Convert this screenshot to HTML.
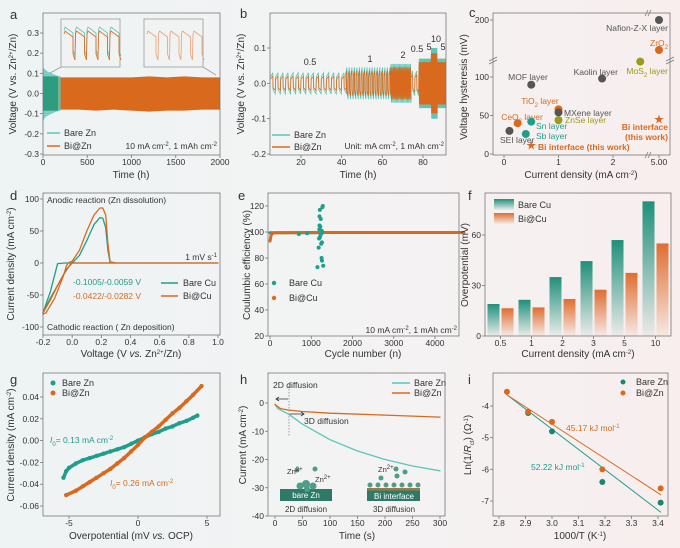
<!DOCTYPE html>
<html><head><meta charset="utf-8">
<style>
html,body{margin:0;padding:0;}
body{width:680px;height:548px;overflow:hidden;background:linear-gradient(90deg,#eef3f4 0%,#f3f3f3 50%,#f8eeee 100%);}
svg{display:block;font-family:"Liberation Sans","Noto Sans CJK SC",sans-serif;}
</style></head>
<body>
<svg id="fig" width="680" height="548" viewBox="0 0 680 548" xmlns="http://www.w3.org/2000/svg"></svg>
<script>
// ---------- data: panel a ----------
const aBareT=[0,20,50,100,150,200];
const aBareUp=[0.13,0.12,0.11,0.10,0.09,0.085];
const aBareLo=[-0.14,-0.12,-0.11,-0.10,-0.09,-0.085];
const aBiT=[0,200,400,600,800,1000,1200,1400,1600,1800,2000];
const aBiUp=[0.07,0.08,0.08,0.08,0.08,0.08,0.085,0.08,0.085,0.08,0.08];
const aBiLo=[-0.07,-0.08,-0.08,-0.085,-0.08,-0.085,-0.09,-0.085,-0.085,-0.08,-0.08];
// ---------- data: panel b ----------
const bSegStart=[5,42,64,74,78,84,87];
const bSegEnd=[42,64,74,78,84,87,91];
const bBareAmp=[0.03,0.045,0.055,0.035,0.07,0.1,0.07];
const bBiAmp=[0.02,0.035,0.045,0.025,0.06,0.085,0.06];
const bPeriod=[2.5,1.25,0.6,2.0,0.35,0.3,0.35];
const bRateLabels=["0.5","1","2","0.5","5","10","5"];
// ---------- data: panel c ----------
const cNames=["Nafion-Z-X layer","ZrO<tspan baseline-shift='sub' font-size='6'>2</tspan>","MoS<tspan baseline-shift='sub' font-size='6'>2</tspan> layer","Kaolin layer","MOF layer","TiO<tspan baseline-shift='sub' font-size='6'>2</tspan> layer","MXene layer","ZnSe layer","CeO<tspan baseline-shift='sub' font-size='6'>2</tspan> layer","Sn layer","Sb layer","SEI layer"];
const cX=[5,5,2.5,1.8,0.5,1.0,1.0,1.0,0.25,0.5,0.4,0.1];
const cY=[200,150,120,98,90,58,54,44,40,42,26,30];
const cColor=["#555","#d9691c","#9a9a1c","#555","#555","#d9691c","#555","#9a9a1c","#d9691c","#1f9e8c","#1f9e8c","#555"];
const cStarX=[0.5,5];
const cStarY=[11,45];
// ---------- data: panel d ----------
const dBareV=[-0.2,-0.15,-0.11,-0.1,-0.05,0,0.05,0.1,0.15,0.19,0.21,0.23,0.245,0.26,0.3,1.0,0.3,0.0,-0.006,-0.05,-0.1,-0.15,-0.2];
const dBareJ=[-78,-45,-10,-1,0,0,12,35,60,71,70,55,20,1,0,0,0,0,0,-15,-35,-55,-78];
const dBiV=[-0.2,-0.18,-0.12,-0.06,-0.04,-0.028,0,0.05,0.1,0.15,0.19,0.21,0.23,0.245,0.26,0.3,1.0,0.3,0,-0.04,-0.1,-0.15,-0.2];
const dBiJ=[-80,-78,-55,-20,-5,0,3,20,50,75,86,86,75,30,2,0,0,0,0,-10,-35,-58,-78];
// ---------- data: panel e ----------
const eBiN=[0,30,100,1000,2000,3000,4000,4700];
const eBiCE=[93,98,99.5,99.6,99.6,99.6,99.6,99.6];
const eBareN=[1150,1180,1190,1200,1210,1220,1230,1240,1250,1260,1270,1280,1290,1200,1230,1260,1250,1270,1210,1195,1240,700,900];
const eBareCE=[73,88,95,112,117,104,98,91,80,78,119,120,74,105,110,92,101,100,96,102,99,98.5,99];
// ---------- data: panel f ----------
const fCats=["0.5","1","2","3","5","10"];
const fBare=[19,21.5,35,44.5,57,80];
const fBi=[16.5,17,22,27.5,37.5,55];
// ---------- data: panel g ----------
const gBareX=[-5.4,-5.2,-5.0,-4.5,-4,-3.5,-3,-2.5,-2,-1.5,-1,-0.5,0,0.5,1,1.5,2,2.5,3,3.5,4,4.3];
const gBareY=[-0.034,-0.028,-0.025,-0.021,-0.018,-0.016,-0.014,-0.012,-0.010,-0.008,-0.006,-0.003,0.000,0.003,0.006,0.008,0.011,0.013,0.016,0.018,0.021,0.023];
const gBiX=[-5.2,-4.5,-4,-3.5,-3,-2.5,-2,-1.5,-1,-0.5,0,0.5,1,1.5,2,2.5,3,3.5,4,4.6];
const gBiY=[-0.050,-0.046,-0.042,-0.038,-0.034,-0.030,-0.026,-0.021,-0.016,-0.010,-0.004,0.003,0.008,0.013,0.019,0.025,0.030,0.036,0.042,0.050];
// ---------- data: panel h ----------
const hBareT=[0,5,25,50,100,150,200,250,300];
const hBareI=[-0.5,-2,-4,-7.5,-13,-17,-20,-22.3,-24];
const hBiT=[0,10,25,50,100,200,300];
const hBiI=[-0.5,-2,-2.5,-3,-3.6,-4.3,-5];
// ---------- data: panel i ----------
const iBareX=[2.91,3.0,3.19,3.41];
const iBareY=[-4.22,-4.8,-6.4,-7.05];
const iBiX=[2.83,2.91,3.0,3.19,3.41];
const iBiY=[-3.55,-4.18,-4.5,-6.0,-6.6];
const iBareFitX=[2.83,3.41];
const iBareFitY=[-3.65,-7.35];
const iBiFitX=[2.83,3.41];
const iBiFitY=[-3.65,-6.8];

const NS="http://www.w3.org/2000/svg";
const svg=document.getElementById('fig');
const TEAL="#1f9e8c", LTEAL="#5cc6b9", ORANGE="#d9691c", DGREEN="#2e9c7f";
function mk(tag,attrs,parent){const e=document.createElementNS(NS,tag);for(const k in attrs)e.setAttribute(k,attrs[k]);(parent||svg).appendChild(e);return e;}
function lin(v1,p1,v2,p2){return v=>p1+(v-v1)*(p2-p1)/(v2-v1);}
function T(x,y,html,name,opt){
  opt=opt||{};
  const e=mk('text',{x:x,y:y,'font-size':opt.fs||9,fill:opt.fill||'#333','text-anchor':opt.anchor||'start'});
  if(opt.bold)e.setAttribute('font-weight','bold');
  if(opt.rot!==undefined)e.setAttribute('transform','rotate('+opt.rot+' '+x+' '+y+')');
  e.innerHTML=html;
  
  
  return e;
}
function poly(xs,ys,sx,sy,stroke,w,name){
  const pts=xs.map((v,i)=>sx(v).toFixed(1)+','+sy(ys[i]).toFixed(1)).join(' ');
  const p=mk('polyline',{points:pts,fill:'none',stroke:stroke,'stroke-width':w,'stroke-linejoin':'round','stroke-linecap':'round'});
  
  
  return p;
}
function dot(x,y,r,fill,name){
  const c=mk('circle',{cx:x,cy:y,r:r,fill:fill});
  
  
  return c;
}
function frame(p,b){
  const r=mk('rect',{x:b[0],y:b[1],width:b[2]-b[0],height:b[3]-b[1],fill:'none',stroke:'#777','stroke-width':0.8});
  
  
}
function xticks(p,b,vals,labels,sx){
  vals.forEach((v,i)=>{
    const x=sx(v);
    const t=mk('line',{x1:x,x2:x,y1:b[3],y2:b[3]+3,stroke:'#777','stroke-width':0.8});
    
    
    T(x,b[3]+10,labels[i],p+'-x-tick-label',{anchor:'middle',fs:8.5});
  });
}
function yticks(p,b,vals,labels,sy){
  vals.forEach((v,i)=>{
    const y=sy(v);
    const t=mk('line',{x1:b[0]-3,x2:b[0],y1:y,y2:y,stroke:'#777','stroke-width':0.8});
    
    
    T(b[0]-4,y+3,labels[i],p+'-y-tick-label',{anchor:'end',fs:8.5});
  });
}
const SUP=s=>"<tspan baseline-shift='super' font-size='6'>"+s+"</tspan>";
const SUB=s=>"<tspan baseline-shift='sub' font-size='6'>"+s+"</tspan>";

// ======== Panel a ========
(function(){
  const b=[43,13,220,155];
  const sx=lin(0,43,2000,220), sy=lin(0.3,33,-0.3,154);
  const biPts=aBiT.map((t,i)=>sx(t)+','+sy(aBiUp[i])).concat(aBiT.slice().reverse().map((t,i)=>sx(t)+','+sy(aBiLo[aBiT.length-1-i])));
  const bi=mk('polygon',{points:biPts.join(' '),fill:ORANGE});
  
  
  const lp=aBareT.map((t,i)=>sx(t)+','+sy(aBareUp[i])).concat(aBareT.slice().reverse().map((t,i)=>sx(t)+','+sy(aBareLo[aBareT.length-1-i])));
  const lb=mk('polygon',{points:lp.join(' '),fill:LTEAL,opacity:0.8});
  
  
  const core=mk('rect',{x:sx(0),y:sy(0.085),width:sx(170)-sx(0),height:sy(-0.085)-sy(0.085),fill:DGREEN});
  
  
  frame('a',b);
  xticks('a',b,[0,500,1000,1500,2000],['0','500','1000','1500','2000'],sx);
  yticks('a',b,[0.3,0.2,0.1,0,-0.1,-0.2,-0.3],['0.3','0.2','0.1','0.0','-0.1','-0.2','-0.3'],sy);
  [[61,'a-inset-bare',LTEAL,ORANGE],[144,'a-inset-bi',null,'#e8a070']].forEach(s=>{
    const r=mk('rect',{x:s[0],y:19,width:59,height:48,fill:'#f1f3f3',stroke:'#999','stroke-width':0.8});
    
    
    for(let k=0;k<2;k++){
      const col=k===0?s[2]:s[3]; if(!col)continue;
      const off=k===0?0:4;
      let d='';
      for(let c=0;c<5;c++){
        const x0=s[0]+3+c*11.5;
        d+=(c===0?'M':'L')+x0+','+(30+off)+' L'+(x0+1)+','+(27+off)+' L'+(x0+9)+','+(33+off)+' L'+(x0+9)+','+(50+off)+' L'+(x0+11)+','+(56+off)+' ';
      }
      const pth=mk('path',{d:d,fill:'none',stroke:col,'stroke-width':0.8});
      
      
    }
  });
  const a1=mk('line',{x1:61,y1:67,x2:50,y2:73,stroke:'#999','stroke-width':0.8});
  
  
  const a2=mk('line',{x1:203,y1:67,x2:216,y2:75,stroke:'#999','stroke-width':0.8});
  
  
  const l1=mk('line',{x1:47,x2:60,y1:133,y2:133,stroke:LTEAL,'stroke-width':1.5});
  
  
  T(64,136,'Bare Zn','a-legend-bare-zn');
  const l2=mk('line',{x1:47,x2:60,y1:146,y2:146,stroke:ORANGE,'stroke-width':1.5});
  
  
  T(64,149,'Bi@Zn','a-legend-bi-zn');
  T(217,149,'10 mA cm'+SUP('-2')+', 1 mAh cm'+SUP('-2'),'a-condition-note',{anchor:'end',fs:8.5});
  T(131,178,'Time (h)','a-x-axis-title',{anchor:'middle',fs:10});
  T(16,84,'Voltage (V vs. Zn'+SUP('2+')+'/Zn)','a-y-axis-title',{anchor:'middle',fs:10,rot:-90});
  T(10,19,'a','a-panel-label',{fs:13});
})();

// ======== Panel b ========
(function(){
  const b=[270,13,446,155];
  const sx=lin(20,301,80,423), sy=lin(0.1,48,-0.2,154);
  [[bBareAmp,LTEAL,'b-bare-zn-curve'],[bBiAmp,ORANGE,'b-bi-zn-curve']].forEach(s=>{
    let d='';
    bSegStart.forEach((t0,i)=>{
      const amp=s[0][i], p=bPeriod[i];
      for(let t=t0;t<bSegEnd[i]-0.01;t+=p){
        d+=(d===''?'M':'L')+sx(t).toFixed(1)+','+sy(amp*0.6).toFixed(1)+' L'+sx(t+0.45*p).toFixed(1)+','+sy(amp).toFixed(1)+' L'+sx(t+0.5*p).toFixed(1)+','+sy(-amp*0.6).toFixed(1)+' L'+sx(t+0.95*p).toFixed(1)+','+sy(-amp).toFixed(1)+' ';
      }
    });
    const pth=mk('path',{d:d,fill:'none',stroke:s[1],'stroke-width':0.8});
    
    
  });
  const lx=[310,370,403,417,429,436,443], ly=[65,62,58,52,50,42,50];
  bRateLabels.forEach((s,i)=>T(lx[i],ly[i],s,'b-rate-label',{anchor:'middle',fs:9}));
  frame('b',b);
  xticks('b',b,[20,40,60,80],['20','40','60','80'],sx);
  yticks('b',b,[0.1,0,-0.1,-0.2],['0.1','0.0','-0.1','-0.2'],sy);
  const l1=mk('line',{x1:272,x2:290,y1:135,y2:135,stroke:LTEAL,'stroke-width':1.5});
  
  
  T(294,138,'Bare Zn','b-legend-bare-zn');
  const l2=mk('line',{x1:272,x2:290,y1:147,y2:147,stroke:ORANGE,'stroke-width':1.5});
  
  
  T(294,150,'Bi@Zn','b-legend-bi-zn');
  T(444,149,'Unit: mA cm'+SUP('-2')+', 1 mAh cm'+SUP('-2'),'b-unit-note',{anchor:'end',fs:8.5});
  T(358,178,'Time (h)','b-x-axis-title',{anchor:'middle',fs:10});
  T(244,84,'Voltage (V vs. Zn'+SUP('2+')+'/Zn)','b-y-axis-title',{anchor:'middle',fs:10,rot:-90});
  T(240,18,'b','b-panel-label',{fs:13});
})();

// ======== Panel c ========
(function(){
  const b=[493,13,670,155];
  const sxl=lin(0,504,2,613);
  const sx=v=>v>3?659:sxl(v);
  const syl=lin(0,154,100,77), syu=lin(200,20,150,50);
  const sy=v=>v>=140?syu(v):syl(v);
  frame('c',b);
  xticks('c',b,[0,1,2,5],['0','1','2','5.00'],sx);
  yticks('c',b,[0,50,100,200],['0','50','100','200'],sy);
  [[b[0],59],[b[2],59]].forEach(p=>{
    const br=mk('path',{d:'M'+(p[0]-4)+','+(p[1]+2)+' l8,-4 M'+(p[0]-4)+','+(p[1]+5)+' l8,-4',stroke:'#777','stroke-width':0.8,fill:'none'});
    
    
  });
  [[648,b[1]],[648,b[3]]].forEach(p=>{
    const br=mk('path',{d:'M'+(p[0]-3)+','+(p[1]+3)+' l3,-6 M'+p[0]+','+(p[1]+3)+' l3,-6',stroke:'#777','stroke-width':0.8,fill:'none'});
    
    
  });
  const lx=[668,668,668,618,528,540,564,565,522,536,536,500];
  const ly=[31,46,74,75,80,104,116,123,120,129,139,143];
  const la=['end','end','end','end','middle','middle','start','start','middle','start','start','start'];
  cX.forEach((v,i)=>{
    dot(sx(v),sy(cY[i]),4,cColor[i],'c-point');
    T(lx[i],ly[i],cNames[i],'c-point-label',{anchor:la[i],fill:cColor[i],fs:8.5});
  });
  cStarX.forEach((v,i)=>T(sx(v),sy(cStarY[i])+3.5,'★','c-this-work-star',{anchor:'middle',fill:ORANGE,fs:10}));
  T(538,150,'Bi interface (this work)','c-this-work-label',{fill:ORANGE,fs:8.5,bold:true});
  T(668,130,'Bi interface','c-this-work-label',{anchor:'end',fill:ORANGE,fs:8.5,bold:true});
  T(668,140,'(this work)','c-this-work-label',{anchor:'end',fill:ORANGE,fs:8.5,bold:true});
  T(581,178,'Current density (mA cm'+SUP('-2')+')','c-x-axis-title',{anchor:'middle',fs:10});
  T(467,87,'Voltage hysteresis (mV)','c-y-axis-title',{anchor:'middle',fs:10,rot:-90});
  T(469,17,'c','c-panel-label',{fs:13});
})();

// ======== Panel d ========
(function(){
  const b=[43,193,220,335];
  const sx=lin(-0.2,43,1.0,218), sy=lin(100,199,-100,327);
  poly(dBareV,dBareJ,sx,sy,TEAL,1.3,'d-bare-cu-cv-curve');
  poly(dBiV,dBiJ,sx,sy,ORANGE,1.3,'d-bi-cu-cv-curve');
  frame('d',b);
  xticks('d',b,[-0.2,0,0.2,0.4,0.6,0.8,1.0],['-0.2','0.0','0.2','0.4','0.6','0.8','1.0'],sx);
  yticks('d',b,[100,50,0,-50,-100],['100','50','0','-50','-100'],sy);
  T(47,203,'Anodic reaction (Zn dissolution)','d-anodic-label',{fs:8.5});
  T(47,330,'Cathodic reaction ( Zn deposition)','d-cathodic-label',{fs:8.5});
  T(217,260,'1 mV s'+SUP('-1'),'d-scan-rate',{anchor:'end',fs:8.5});
  T(73,285,'-0.1005/-0.0059 V','d-bare-cu-onset',{fill:TEAL,fs:8.5});
  T(73,299,'-0.0422/-0.0282 V','d-bi-cu-onset',{fill:ORANGE,fs:8.5});
  const l1=mk('line',{x1:161,x2:178,y1:283,y2:283,stroke:TEAL,'stroke-width':1.5});
  
  
  T(183,286,'Bare Cu','d-legend-bare-cu');
  const l2=mk('line',{x1:161,x2:178,y1:296,y2:296,stroke:ORANGE,'stroke-width':1.5});
  
  
  T(183,299,'Bi@Cu','d-legend-bi-cu');
  T(131,357,'Voltage (V <tspan font-style="italic">vs.</tspan> Zn'+SUP('2+')+'/Zn)','d-x-axis-title',{anchor:'middle',fs:10});
  T(14,264,'Current density (mA cm'+SUP('-2')+')','d-y-axis-title',{anchor:'middle',fs:10,rot:-90});
  T(10,200,'d','d-panel-label',{fs:13});
})();

// ======== Panel e ========
(function(){
  const b=[268,193,459,336];
  const sx=lin(0,270,4000,435), sy=lin(120,206,20,336);
  poly([0,1300],[99.5,99.5],sx,sy,TEAL,3,'e-bare-cu-baseline');
  poly(eBiN,eBiCE,sx,sy,ORANGE,3,'e-bi-cu-ce-series');
  eBareN.forEach((n,i)=>dot(sx(n),sy(eBareCE[i]),2,TEAL,'e-bare-cu-point'));
  frame('e',b);
  xticks('e',b,[0,1000,2000,3000,4000],['0','1000','2000','3000','4000'],sx);
  yticks('e',b,[120,100,80,60,40,20],['120','100','80','60','40','20'],sy);
  dot(274,283,2.2,TEAL,'e-legend-bare-cu-marker');
  T(289,286,'Bare Cu','e-legend-bare-cu');
  dot(274,298,2.2,ORANGE,'e-legend-bi-cu-marker');
  T(289,301,'Bi@Cu','e-legend-bi-cu');
  T(457,333,'10 mA cm'+SUP('-2')+', 1 mAh cm'+SUP('-2'),'e-condition-note',{anchor:'end',fs:8.5});
  T(363,357,'Cycle number (n)','e-x-axis-title',{anchor:'middle',fs:10});
  T(250,265,'Coulumbic efficiency (%)','e-y-axis-title',{anchor:'middle',fs:10,rot:-90});
  T(238,200,'e','e-panel-label',{fs:13});
})();

// ======== Panel f ========
(function(){
  const b=[485,193,671,336];
  const sy=lin(0,336,60,235);
  const step=(b[2]-b[0])/fCats.length;
  const defs=mk('defs',{});
  defs.innerHTML='<linearGradient id="gt" x1="0" y1="0" x2="0" y2="1"><stop offset="0" stop-color="#1f9079"/><stop offset="1" stop-color="#1f9079" stop-opacity="0.05"/></linearGradient><linearGradient id="go" x1="0" y1="0" x2="0" y2="1"><stop offset="0" stop-color="#df6e30"/><stop offset="1" stop-color="#df6e30" stop-opacity="0.05"/></linearGradient>';
  fCats.forEach((c,i)=>{
    const cx=b[0]+step*(i+0.5);
    const r1=mk('rect',{x:cx-13,y:sy(fBare[i]),width:12,height:sy(0)-sy(fBare[i]),fill:'url(#gt)'});
    
    
    const r2=mk('rect',{x:cx+1,y:sy(fBi[i]),width:12,height:sy(0)-sy(fBi[i]),fill:'url(#go)'});
    
    
    const t=mk('line',{x1:cx,x2:cx,y1:b[3],y2:b[3]+3,stroke:'#777','stroke-width':0.8});
    
    
    T(cx,b[3]+10,c,'f-x-tick-label',{anchor:'middle',fs:8.5});
  });
  frame('f',b);
  yticks('f',b,[0,30,60],['0','30','60'],sy);
  const g1=mk('rect',{x:494,y:199,width:20,height:11,fill:'url(#gt)'});
  
  
  T(518,208,'Bare Cu','f-legend-bare-cu');
  const g2=mk('rect',{x:494,y:213,width:20,height:11,fill:'url(#go)'});
  
  
  T(518,222,'Bi@Cu','f-legend-bi-cu');
  T(578,357,'Current density (mA cm'+SUP('-2')+')','f-x-axis-title',{anchor:'middle',fs:10});
  T(468,265,'Overpotential (mV)','f-y-axis-title',{anchor:'middle',fs:10,rot:-90});
  T(468,200,'f','f-panel-label',{fs:13});
})();

// ======== Panel g ========
(function(){
  const b=[43,373,220,516];
  const sx=lin(-5,69,5,207), sy=lin(0.04,397,-0.06,506);
  poly(gBareX,gBareY,sx,sy,TEAL,3.5,'g-bare-zn-series');
  gBareX.forEach((v,i)=>dot(sx(v),sy(gBareY[i]),2.2,TEAL,'g-bare-zn-point'));
  poly(gBiX,gBiY,sx,sy,ORANGE,3.5,'g-bi-zn-series');
  gBiX.forEach((v,i)=>dot(sx(v),sy(gBiY[i]),2.2,ORANGE,'g-bi-zn-point'));
  frame('g',b);
  xticks('g',b,[-5,0,5],['-5','0','5'],sx);
  yticks('g',b,[0.04,0.02,0,-0.02,-0.04,-0.06],['0.04','0.02','0.00','-0.02','-0.04','-0.06'],sy);
  dot(53,383,2.5,TEAL,'g-legend-bare-zn-marker');
  T(62,386,'Bare Zn','g-legend-bare-zn');
  dot(53,393,2.5,ORANGE,'g-legend-bi-zn-marker');
  T(62,396,'Bi@Zn','g-legend-bi-zn');
  T(50,443,'<tspan font-style="italic">I</tspan>'+SUB('0')+'= 0.13 mA cm'+SUP('-2'),'g-bare-zn-exchange-current',{fill:TEAL,fs:8.5});
  T(110,486,'<tspan font-style="italic">I</tspan>'+SUB('0')+'= 0.26 mA cm'+SUP('-2'),'g-bi-zn-exchange-current',{fill:ORANGE,fs:8.5});
  T(131,539,'Overpotential (mV <tspan font-style="italic">vs.</tspan> OCP)','g-x-axis-title',{anchor:'middle',fs:10});
  T(14,445,'Current density (mA cm'+SUP('-2')+')','g-y-axis-title',{anchor:'middle',fs:10,rot:-90});
  T(10,384,'g','g-panel-label',{fs:13});
})();

// ======== Panel h ========
(function(){
  const b=[268,373,445,516];
  const sx=lin(0,275,300,440), sy=lin(0,403,-40,516);
  poly(hBareT,hBareI,sx,sy,LTEAL,1.3,'h-bare-zn-curve');
  poly(hBiT,hBiI,sx,sy,ORANGE,1.3,'h-bi-zn-curve');
  frame('h',b);
  xticks('h',b,[0,50,100,150,200,250,300],['0','50','100','150','200','250','300'],sx);
  yticks('h',b,[0,-10,-20,-30,-40],['0','-10','-20','-30','-40'],sy);
  const dl=mk('line',{x1:289,x2:289,y1:383,y2:436,stroke:'#888','stroke-width':0.8,'stroke-dasharray':'1.5,1.5'});
  
  
  const ar1=mk('path',{d:'M288,399 L276,399 M279,397 L276,399 L279,401',stroke:'#333','stroke-width':0.8,fill:'none'});
  
  
  const ar2=mk('path',{d:'M290,414 L304,414 M301,412 L304,414 L301,416',stroke:'#333','stroke-width':0.8,fill:'none'});
  
  
  T(273,388,'2D diffusion','h-2d-diffusion-label',{fs:8.5});
  T(304,424,'3D diffusion','h-3d-diffusion-label',{fs:8.5});
  const l1=mk('line',{x1:392,x2:410,y1:383,y2:383,stroke:LTEAL,'stroke-width':1.5});
  
  
  T(414,386,'Bare Zn','h-legend-bare-zn');
  const l2=mk('line',{x1:392,x2:410,y1:393,y2:393,stroke:ORANGE,'stroke-width':1.5});
  
  
  T(414,396,'Bi@Zn','h-legend-bi-zn');
  const s1=mk('rect',{x:280,y:489,width:52,height:12,fill:'#2f7a66'});
  
  
  T(306,498,'bare Zn','h-bare-zn-schematic-label',{anchor:'middle',fill:'#fff',fs:8});
  [[300,486,3.5],[306,484,4],[313,486,3.5],[307,489,3],[297,470,2.5],[315,469,2.5]].forEach(p=>dot(p[0],p[1],p[2],'#4f9c88','h-zn-ion'));
  T(287,474,'Zn'+SUP('2+'),'h-zn-ion-label',{fs:7.5});
  T(315,482,'Zn'+SUP('2+'),'h-zn-ion-label',{fs:7.5});
  T(306,512,'2D diffusion','h-2d-schematic-caption',{anchor:'middle',fs:8});
  const s2=mk('rect',{x:367,y:490,width:53,height:11,fill:'#2f7a66'});
  
  
  const s3=mk('rect',{x:367,y:488,width:53,height:2.5,fill:'#9a7a4a'});
  
  
  T(394,499,'Bi interface','h-bi-interface-label',{anchor:'middle',fill:'#fff',fs:8});
  [370,378,386,394,402,410,418].forEach(x=>dot(x,485,2.5,'#4f9c88','h-zn-ion'));
  [[381,478],[397,476],[405,472],[396,469]].forEach(p=>dot(p[0],p[1],2.5,'#4f9c88','h-zn-ion'));
  T(378,472,'Zn'+SUP('2+'),'h-zn-ion-label',{fs:7.5});
  T(394,512,'3D diffusion','h-3d-schematic-caption',{anchor:'middle',fs:8});
  T(357,539,'Time (s)','h-x-axis-title',{anchor:'middle',fs:10});
  T(246,445,'Current (mA cm'+SUP('-2')+')','h-y-axis-title',{anchor:'middle',fs:10,rot:-90});
  T(240,384,'h','h-panel-label',{fs:13});
})();

// ======== Panel i ========
(function(){
  const b=[493,373,668,516];
  const sx=lin(2.8,499,3.4,658), sy=lin(-4,406,-7,501);
  poly(iBareFitX,iBareFitY,sx,sy,TEAL,1,'i-bare-zn-fit-line');
  poly(iBiFitX,iBiFitY,sx,sy,ORANGE,1,'i-bi-zn-fit-line');
  iBareX.forEach((v,i)=>dot(sx(v),sy(iBareY[i]),3,'#1a8577','i-bare-zn-point'));
  iBiX.forEach((v,i)=>dot(sx(v),sy(iBiY[i]),3,ORANGE,'i-bi-zn-point'));
  frame('i',b);
  xticks('i',b,[2.8,2.9,3.0,3.1,3.2,3.3,3.4],['2.8','2.9','3.0','3.1','3.2','3.3','3.4'],sx);
  yticks('i',b,[-4,-5,-6,-7],['-4','-5','-6','-7'],sy);
  dot(623,382,2.5,'#1a8577','i-legend-bare-zn-marker');
  T(636,385,'Bare Zn','i-legend-bare-zn');
  dot(623,393,2.5,ORANGE,'i-legend-bi-zn-marker');
  T(636,396,'Bi@Zn','i-legend-bi-zn');
  T(566,431,'45.17 kJ mol'+SUP('-1'),'i-bi-zn-activation-energy',{fill:ORANGE,fs:8.5});
  T(531,470,'52.22 kJ mol'+SUP('-1'),'i-bare-zn-activation-energy',{fill:TEAL,fs:8.5});
  T(580,539,'1000/T (K'+SUP('-1')+')','i-x-axis-title',{anchor:'middle',fs:10});
  T(471,445,'Ln(1/<tspan font-style="italic">R</tspan>'+SUB('ct')+') (Ω'+SUP('-1')+')','i-y-axis-title',{anchor:'middle',fs:10,rot:-90});
  T(468,384,'i','i-panel-label',{fs:13});
})();
</script>
</body></html>
